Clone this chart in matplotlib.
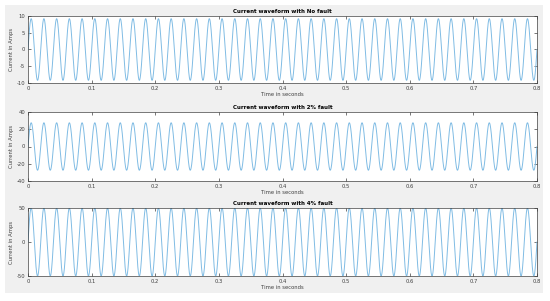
import numpy as np
import matplotlib.pyplot as plt
from matplotlib.patches import Rectangle

plt.rcParams['axes.unicode_minus'] = False

# waveform parameters
titles = ['Current waveform with No fault', 'Current waveform with 2% fault', 'Current waveform with 4% fault']
amplitudes = [9.2, 27.5, 50.0]
freq_hz = 50.0
t_end = 0.8
ylims = [(-10, 10), (-40, 40), (-50, 50)]
yticks = [[-10, -5, 0, 5, 10], [-40, -20, 0, 20, 40], [-50, 0, 50]]
xticks = [0, 0.1, 0.2, 0.3, 0.4, 0.5, 0.6, 0.7, 0.8]
xticklabels = ['0', '0.1', '0.2', '0.3', '0.4', '0.5', '0.6', '0.7', '0.8']

t = np.linspace(0, t_end, 8001)

fig = plt.figure(figsize=(5.5, 3.01), dpi=100, facecolor='white')
fig.patches.append(Rectangle((5/550, 8/301), 538/550, 288/301, transform=fig.transFigure,
                             facecolor='#f0f0f0', edgecolor='none', zorder=-10))

# axes boxes in pixels: (top, bottom)
boxes = [(16, 83), (112, 181), (208, 276)]
left, right = 28, 537
for i in range(3):
    top, bot = boxes[i]
    ax = fig.add_axes([left/550, 1 - bot/301, (right-left)/550, (bot-top)/301])
    ax.set_facecolor('white')
    ax.plot(t, amplitudes[i]*np.sin(2*np.pi*freq_hz*t), color='#80bce4', lw=0.7)
    ax.set_xlim(0, t_end)
    ax.set_ylim(*ylims[i])
    ax.set_xticks(xticks)
    ax.set_xticklabels(xticklabels)
    ax.set_yticks(yticks[i])
    ax.tick_params(direction='in', length=2.5, width=0.5, labelsize=3.8, colors='#404040',
                   top=True, right=True, pad=2)
    for s in ax.spines.values():
        s.set_linewidth(0.5)
        s.set_color('#404040')
    ax.set_title(titles[i], fontsize=4, fontweight='bold', pad=2, color='#000000')
    ax.set_xlabel('Time in seconds', fontsize=3.8, labelpad=1, color='#404040')
    ax.set_ylabel('Current in Amps', fontsize=3.8, labelpad=2, color='#404040')

fig.savefig('out.png', dpi=100, facecolor=fig.get_facecolor())
